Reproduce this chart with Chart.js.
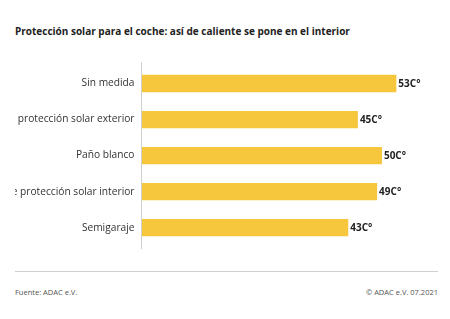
<!DOCTYPE html>
<html>
<head>
<meta charset="utf-8">
<script src="https://cdn.jsdelivr.net/npm/chart.js@4"></script>
<style>
  html, body { margin: 0; padding: 0; background: #fff; }
  body { width: 450px; height: 319px; position: relative; overflow: hidden; font-family: "Open Sans", sans-serif; }
  #title { position: absolute; left: 15px; top: 24px; font-size: 10px; font-weight: 700; color: #222; white-space: nowrap; }
  #wrap { position: absolute; left: 15px; top: 55px; width: 423px; height: 200px; }
  #rule { position: absolute; left: 15px; top: 271px; width: 423px; height: 0; border-top: 1.5px solid #cfcfcf; }
  .foot { position: absolute; top: 287px; font-size: 7.5px; color: #555; white-space: nowrap; }
  #src { left: 15px; }
  #copy { right: 12px; }
</style>
</head>
<body>
<div id="title">Protección solar para el coche: así de caliente se pone en el interior</div>
<div id="wrap"><canvas id="c" width="423" height="200"></canvas></div>
<div id="rule"></div>
<div class="foot" id="src">Fuente: ADAC e.V.</div>
<div class="foot" id="copy">© ADAC e.V. 07.2021</div>
<script>
const categories = [
  "Sin medida",
  "Parasol de protección solar exterior",
  "Paño blanco",
  "Parasol de protección solar interior",
  "Semigaraje"
];
const temperatures = [53, 45, 50, 49, 43];
const valueSuffix = "C°";

const axisLinePlugin = {
  id: 'axisLine',
  afterDatasetsDraw(chart) {
    const { ctx, chartArea } = chart;
    ctx.save();
    ctx.strokeStyle = '#d0d0d0';
    ctx.lineWidth = 1;
    const x = Math.round(chartArea.left) - 0.5;
    ctx.beginPath();
    ctx.moveTo(x, chartArea.top - 3.5);
    ctx.lineTo(x, chartArea.bottom + 3.5);
    ctx.stroke();
    ctx.restore();
  }
};

const valueLabelPlugin = {
  id: 'valueLabels',
  afterDatasetsDraw(chart) {
    const { ctx } = chart;
    const meta = chart.getDatasetMeta(0);
    const data = chart.data.datasets[0].data;
    ctx.save();
    ctx.font = '700 10px "Open Sans", sans-serif';
    ctx.fillStyle = '#222';
    ctx.textAlign = 'left';
    ctx.textBaseline = 'middle';
    meta.data.forEach((bar, i) => {
      ctx.fillText(data[i] + valueSuffix, bar.x + 2, bar.y + 0.5);
    });
    ctx.restore();
  }
};

new Chart(document.getElementById('c'), {
  type: 'bar',
  data: {
    labels: categories,
    datasets: [{
      data: temperatures,
      backgroundColor: '#F6C73D',
      borderWidth: 0,
      categoryPercentage: 1,
      barPercentage: 0.48
    }]
  },
  options: {
    indexAxis: 'y',
    responsive: false,
    animation: false,
    layout: { padding: { top: 10.5, bottom: 9.3, right: 8, left: 0 } },
    plugins: { legend: { display: false }, tooltip: { enabled: false } },
    scales: {
      x: { display: false, min: 0, max: 60 },
      y: {
        grid: { display: false, drawTicks: true, tickLength: 7 },
        border: { display: false },
        ticks: { padding: 0, color: '#333', font: { family: '"Open Sans", sans-serif', size: 10.2 } },
        afterFit(scale) { scale.width = 126.5; }
      }
    }
  },
  plugins: [axisLinePlugin, valueLabelPlugin]
});
</script>
</body>
</html>
